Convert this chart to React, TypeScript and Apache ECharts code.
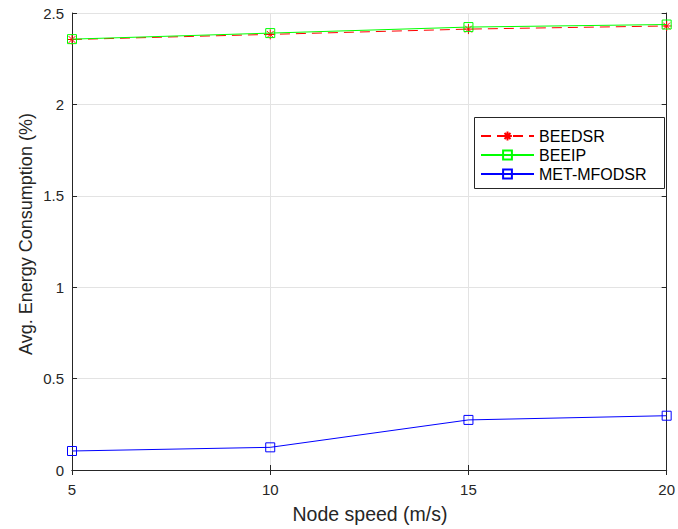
import React, { useEffect, useRef } from "react";
import * as echarts from "echarts";

const speeds = [5, 10, 15, 20];
const beedsr = [2.355, 2.383, 2.412, 2.429];
const beeip = [2.357, 2.39, 2.423, 2.437];
const metMfodsr = [0.104, 0.124, 0.274, 0.297];
const yTicks = [0, 0.5, 1, 1.5, 2, 2.5];
const seriesNames = ["BEEDSR", "BEEIP", "MET-MFODSR"];

const FONT = "Liberation Sans, Arial, Helvetica, sans-serif";
const AXIS = "#262626";
const GRID = "#e3e3e3";

const asterisk = "path://M5,0L5,10M0,5L10,5M1.6,1.6L8.4,8.4M1.6,8.4L8.4,1.6";

export default function App() {
  const ref = useRef<HTMLDivElement>(null);
  useEffect(() => {
    if (!ref.current) return;
    const chart = echarts.init(ref.current, undefined, { renderer: "svg" });
    const pair = (ys: number[]) => speeds.map((x, i) => [x, ys[i]]);
    const baseX = {
      type: "value" as const,
      min: 5,
      max: 20,
      interval: 5,
    };
    const baseY = {
      type: "value" as const,
      min: 0,
      max: 2.5,
      interval: 0.5,
    };
    chart.setOption({
      animation: false,
      backgroundColor: "#ffffff",
      textStyle: { fontFamily: FONT },
      grid: { left: 72, right: 10, top: 13, bottom: 59, containLabel: false },
      xAxis: [
        {
          ...baseX,
          position: "bottom",
          axisLine: { show: true, lineStyle: { color: AXIS, width: 1 } },
          axisTick: { show: true, inside: true, length: 5, lineStyle: { color: AXIS } },
          axisLabel: {
            color: AXIS,
            fontSize: 15,
            fontFamily: FONT,
            margin: 12,
            formatter: (v: number) => String(v),
          },
          splitLine: { show: true, lineStyle: { color: GRID, width: 1 } },
        },
        {
          ...baseX,
          position: "top",
          axisLine: { show: true, lineStyle: { color: AXIS, width: 1 } },
          axisTick: { show: true, inside: true, length: 5, lineStyle: { color: AXIS } },
          axisLabel: { show: false },
          splitLine: { show: false },
        },
      ],
      yAxis: [
        {
          ...baseY,
          position: "left",
          axisLine: { show: true, lineStyle: { color: AXIS, width: 1 } },
          axisTick: { show: true, inside: true, length: 5, lineStyle: { color: AXIS } },
          axisLabel: {
            color: AXIS,
            fontSize: 15,
            fontFamily: FONT,
            margin: 8,
            formatter: (v: number) => (yTicks.includes(v) ? String(v) : ""),
          },
          splitLine: { show: true, lineStyle: { color: GRID, width: 1 } },
        },
        {
          ...baseY,
          position: "right",
          axisLine: { show: true, lineStyle: { color: AXIS, width: 1 } },
          axisTick: { show: true, inside: true, length: 5, lineStyle: { color: AXIS } },
          axisLabel: { show: false },
          splitLine: { show: false },
        },
      ],
      legend: {
        orient: "vertical",
        left: 474,
        top: 117,
        padding: [11, 6, 6, 6],
        itemWidth: 53,
        itemHeight: 11,
        itemGap: 3,
        textStyle: { color: "#000000", fontSize: 16, fontFamily: FONT },
        data: seriesNames,
      },
      graphic: [
        {
          type: "rect",
          z: -1,
          zlevel: 0,
          shape: { x: 474.5, y: 117.5, width: 190, height: 71 },
          style: { fill: "#ffffff", stroke: AXIS, lineWidth: 1 },
        },
        {
          type: "text",
          x: 370,
          y: 514,
          style: {
            text: "Node speed (m/s)",
            fill: AXIS,
            font: `19.5px ${FONT}`,
            align: "center",
            verticalAlign: "middle",
          },
        },
        {
          type: "text",
          x: 26,
          y: 234,
          rotation: Math.PI / 2,
          style: {
            text: "Avg. Energy Consumption (%)",
            fill: AXIS,
            font: `18px ${FONT}`,
            align: "center",
            verticalAlign: "middle",
          },
        },
      ],
      series: [
        {
          name: seriesNames[0],
          type: "line",
          data: pair(beedsr),
          symbol: asterisk,
          symbolSize: 10,
          lineStyle: { color: "#ff0000", width: 1, type: [10, 6] },
          itemStyle: { color: "none", borderColor: "#ff0000", borderWidth: 1 },
          z: 3,
        },
        {
          name: seriesNames[1],
          type: "line",
          data: pair(beeip),
          symbol: "rect",
          symbolSize: 9,
          lineStyle: { color: "#00ff00", width: 1 },
          itemStyle: { color: "none", borderColor: "#00ff00", borderWidth: 1 },
          z: 4,
        },
        {
          name: seriesNames[2],
          type: "line",
          data: pair(metMfodsr),
          symbol: "rect",
          symbolSize: 9,
          lineStyle: { color: "#0000ff", width: 1 },
          itemStyle: { color: "none", borderColor: "#0000ff", borderWidth: 1 },
          z: 4,
        },
      ],
    });
    return () => chart.dispose();
  }, []);
  return <div ref={ref} style={{ width: 678, height: 529, position: "absolute", left: 0, top: 0 }} />;
}
